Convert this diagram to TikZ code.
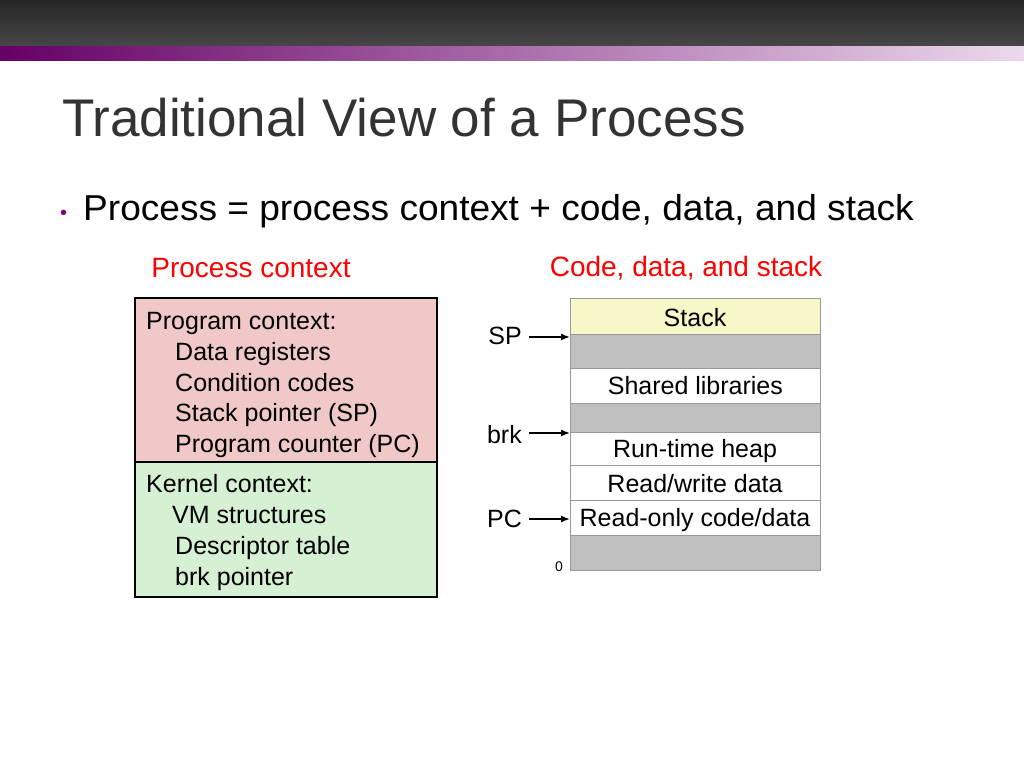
\documentclass[tikz,border=0pt]{standalone}
\usepackage{fontspec}
\setmainfont{Liberation Sans}
\usetikzlibrary{arrows.meta}
\definecolor{pinkc}{HTML}{F0C8C8}
\definecolor{greenc}{HTML}{D5F0D2}
\definecolor{yelc}{HTML}{F7F7C8}
\definecolor{grayc}{HTML}{C0C0C0}
\begin{document}
\begin{tikzpicture}[x=1pt,y=-1pt,
  txt/.style={inner sep=0pt,font=\fontsize{25}{30}\selectfont},
  cell/.style={draw=black!40,line width=0.8pt,minimum width=250pt,inner sep=0pt,font=\fontsize{25}{30}\selectfont},
  arr/.style={-{Latex[length=9pt,width=7pt]},line width=1.5pt}]
\useasboundingbox (0,0) rectangle (1024,768);
\fill[white] (0,0) rectangle (1024,768);
\shade[top color=black!85,bottom color=black!72] (0,0) rectangle (1024,47);
\shade[left color=violet!80!black,right color=violet!15] (0,47) rectangle (1024,60);
\node[anchor=base west,inner sep=0pt,font=\fontsize{53}{60}\selectfont,text=black!80,xscale=1.0] (title) at (62,136) {Traditional View of a Process};
\node[anchor=base west,inner sep=0pt,font=\fontsize{20}{24}\selectfont,text=violet] (bul) at (60,219) {•};
\node[anchor=base west,inner sep=0pt,font=\fontsize{36}{40}\selectfont,xscale=1.03] (l1) at (83,220) {Process = process context + code, data, and stack};
\node[txt,text=red,font=\fontsize{28}{30}\selectfont] (pc) at (251,268) {Process context};
\node[txt,text=red,font=\fontsize{28}{30}\selectfont] (cds) at (686,268) {Code, data, and stack};
% left box
\fill[pinkc] (135,298) rectangle (437,462);
\fill[greenc] (135,462) rectangle (437,597);
\draw[line width=2pt] (135,298) rectangle (437,597) (135,462) -- (437,462);
\node[txt,anchor=base west] (t1) at (146,329) {Program context:};
\node[txt,anchor=base west] (t2) at (175,360) {Data registers};
\node[txt,anchor=base west] (t3) at (175,391) {Condition codes};
\node[txt,anchor=base west] (t4) at (175,421) {Stack pointer (SP)};
\node[txt,anchor=base west] (t5) at (175,452) {Program counter (PC)};
\node[txt,anchor=base west] (k1) at (146,492) {Kernel context:};
\node[txt,anchor=base west] (k2) at (172,523) {VM structures};
\node[txt,anchor=base west] (k3) at (175,554) {Descriptor table};
\node[txt,anchor=base west] (k4) at (175,585) {brk pointer};
% stack
\node[cell,fill=yelc,minimum height=36pt,anchor=north west] (s1) at (570,298) {};
\node[txt] at (695,318) {Stack};
\node[cell,fill=grayc,minimum height=34pt,anchor=north west] (s2) at (570,334) {};
\node[cell,fill=white,minimum height=35pt,anchor=north west] (s3) at (570,368) {Shared libraries};
\node[cell,fill=grayc,minimum height=29pt,anchor=north west] (s4) at (570,403) {};
\node[cell,fill=white,minimum height=33pt,anchor=north west] (s5) at (570,432) {};
\node[txt] at (695,451) {Run-time heap};
\node[cell,fill=white,minimum height=35pt,anchor=north west] (s6) at (570,465) {};
\node[txt] at (695,484) {Read/write data};
\node[cell,fill=white,minimum height=35pt,anchor=north west] (s7) at (570,500) {};
\node[txt] at (695,520) {Read-only code/data};
\node[cell,fill=grayc,minimum height=35pt,anchor=north west] (s8) at (570,535) {};
\node[txt,anchor=east] (sp) at (522,336) {SP};
\node[txt,anchor=east] (brk) at (522,435) {brk};
\node[txt,anchor=east] (pcl) at (522,519) {PC};
\node[inner sep=0pt,font=\fontsize{14}{16}\selectfont] (zero) at (559,567) {0};
\coordinate (a1) at (570,337);
\coordinate (a2) at (570,433);
\coordinate (a3) at (570,519);
\coordinate (b1) at (529,337);
\coordinate (b2) at (529,433);
\coordinate (b3) at (529,519);
\draw[arr] (b1) -- (a1);
\draw[arr] (b2) -- (a2);
\draw[arr] (b3) -- (a3);
\end{tikzpicture}
\end{document}
